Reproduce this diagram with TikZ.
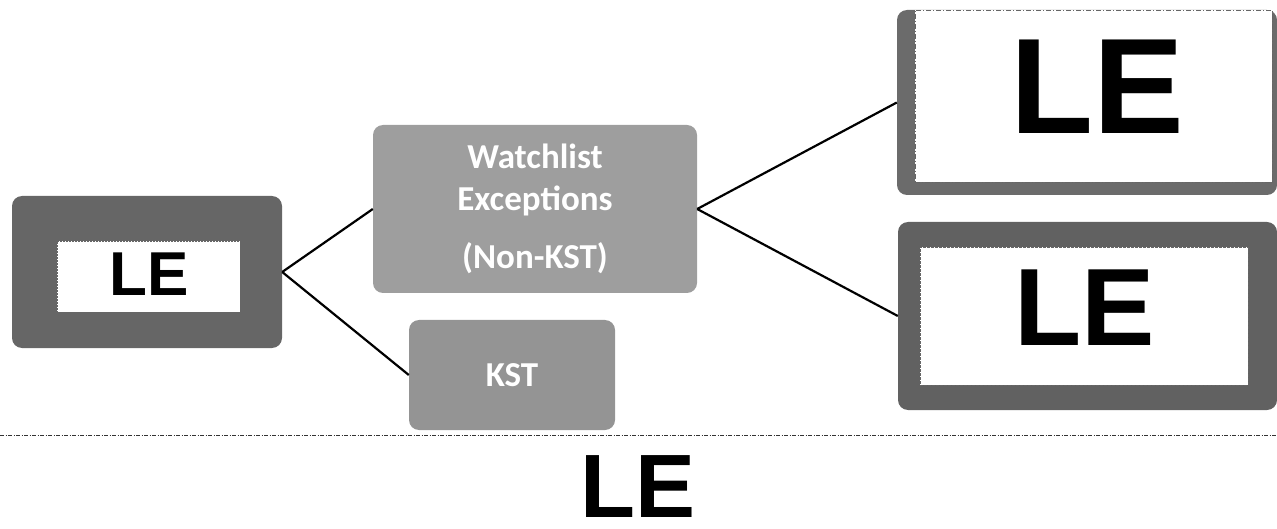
\documentclass[tikz,border=0pt]{standalone}
\usepackage{fontspec}
\setmainfont{Liberation Sans}
\newfontfamily\boxfont{Carlito}
\begin{document}
\begin{tikzpicture}[x=1pt,y=-1pt,
  outerbox/.style={draw=none, rounded corners=10pt, inner sep=0pt},
  innerbox/.style={draw=black!60, fill=white, inner sep=0pt},
  midbox/.style={draw=none, fill=black!38, rounded corners=10pt, inner sep=0pt, text=white, font=\boxfont\bfseries\fontsize{35}{42}\selectfont, align=center},
  conn/.style={draw=black, line width=2.2pt},
  bigle/.style={font=\bfseries, text=black, inner sep=0pt}
]
\useasboundingbox (0,0) rectangle (1277,529);

% left box
\node[outerbox, fill=black!60, minimum width=270pt, minimum height=152pt] (left) at (147,272) {};
\node[innerbox, dash pattern=on 2pt off 1pt, minimum width=183pt, minimum height=71pt] (leftin) at (148.5,276.5) {};
\node[bigle, font=\bfseries\fontsize{62}{62}\selectfont] (leftle) at (149,274) {LE};

% middle boxes
\node[midbox, minimum width=324pt, minimum height=168pt] (mid) at (535,209) {Watchlist\\Exceptions\\[16pt](Non-KST)};
\node[midbox, fill=black!42, minimum width=206pt, minimum height=110pt] (kst) at (512,375) {KST};

% top right box
\node[outerbox, fill=black!58, minimum width=380pt, minimum height=185pt] (tr) at (1087,102.5) {};
\node[innerbox, dash pattern=on 5pt off 2pt on 1pt off 2pt, minimum width=357pt, minimum height=172pt] (trin) at (1093.5,96) {};
\node[bigle, font=\bfseries\fontsize{136}{136}\selectfont] (trle) at (1097,87) {LE};

% bottom right box
\node[outerbox, fill=black!62, minimum width=379pt, minimum height=188pt] (br) at (1087.5,316) {};
\node[innerbox, dash pattern=on 3pt off 1pt, minimum width=328pt, minimum height=138pt] (brin) at (1084,316) {};
\node[bigle, font=\bfseries\fontsize{110}{110}\selectfont] (brle) at (1085,308) {LE};

% connectors
\draw[conn] (left.east) -- (mid.west);
\draw[conn] (left.east) -- (kst.west);
\draw[conn] (mid.east) -- (tr.west);
\draw[conn] (mid.east) -- (br.west);

% separator
\coordinate (sepL) at (0,435);
\coordinate (sepR) at (1277,435);
\draw[black!80, line width=1pt, dash pattern=on 4pt off 1.5pt on 1pt off 1.5pt] (sepL) -- (sepR);

% bottom label
\node[bigle, font=\bfseries\fontsize{90}{90}\selectfont] (botle) at (638,487) {LE};
\end{tikzpicture}
\end{document}
